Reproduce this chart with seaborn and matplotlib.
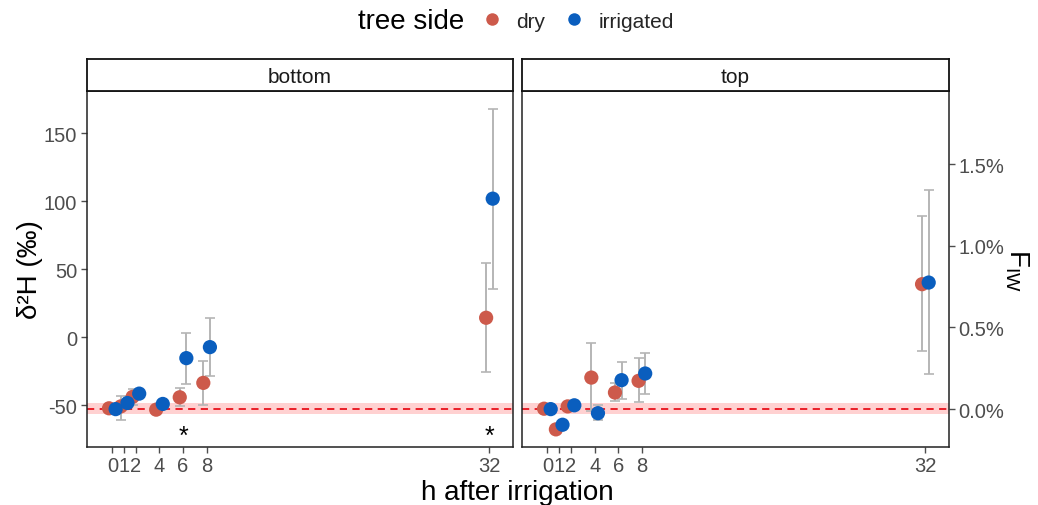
import numpy as np
import pandas as pd
import matplotlib
matplotlib.use("Agg")
import matplotlib.pyplot as plt
import seaborn as sns
from matplotlib.lines import Line2D

sns.set_theme(style="white")
plt.rcParams['font.family'] = ['Liberation Sans', 'DejaVu Sans']
plt.rcParams['axes.unicode_minus'] = False

# ---------------- data ----------------
hours = [0, 1, 2, 4, 6, 8, 32]
positions = ["bottom", "top"]
sides = ["dry", "irrigated"]

bottom_dry_mean = [-52.4, -51.0, -44.0, -53.4, -44.3, -33.7, 14.2]
bottom_dry_lo   = [-55.0, -61.0, -50.0, -56.0, -51.0, -50.2, -25.6]
bottom_dry_hi   = [-50.0, -43.0, -38.0, -51.0, -37.4, -17.7, 54.4]
bottom_irr_mean = [-53.0, -48.5, -41.6, -49.2, -15.5, -7.4, 101.8]
bottom_irr_lo   = [-55.5, -51.0, -44.0, -51.5, -34.2, -28.8, 35.0]
bottom_irr_hi   = [-50.5, -46.0, -39.5, -47.0, 3.2, 14.2, 167.7]

top_dry_mean = [-52.7, -67.9, -51.0, -29.8, -40.8, -32.2, 38.9]
top_dry_lo   = [-55.0, -70.0, -53.0, -54.6, -47.0, -47.7, -10.3]
top_dry_hi   = [-50.5, -66.0, -49.0, -4.7, -34.0, -15.6, 88.8]
top_irr_mean = [-53.0, -64.5, -50.2, -56.0, -31.7, -26.8, 40.1]
top_irr_lo   = [-55.0, -66.5, -52.0, -61.3, -45.8, -42.0, -27.5]
top_irr_hi   = [-51.0, -62.5, -48.5, -50.2, -18.2, -11.6, 108.5]

ref_mean = -52.6
ref_halfwidth = 4.3
signif_hours_bottom = [6, 32]
signif_y = -73

# secondary axis: F_IW (%) = (d2H - base) / slope
fiw_base = -53.0
fiw_slope = 120.2
fiw_ticks = [0.0, 0.5, 1.0, 1.5]

# ---------------- table ----------------
rows = []
series = {
    ("bottom", "dry"): (bottom_dry_mean, bottom_dry_lo, bottom_dry_hi),
    ("bottom", "irrigated"): (bottom_irr_mean, bottom_irr_lo, bottom_irr_hi),
    ("top", "dry"): (top_dry_mean, top_dry_lo, top_dry_hi),
    ("top", "irrigated"): (top_irr_mean, top_irr_lo, top_irr_hi),
}
for (pos, side), (m, lo, hi) in series.items():
    for h, a, b, c in zip(hours, m, lo, hi):
        rows.append(dict(position=pos, side=side, hour=h, mean=a, lo=b, hi=c))
df = pd.DataFrame(rows)
dodge = {"dry": -0.28, "irrigated": 0.28}
df["xpos"] = df["hour"] + df["side"].map(dodge)

palette = {"dry": "#CD5A4B", "irrigated": "#0A5EBE"}

# ---------------- figure ----------------
W, H = 1038, 506
fig = plt.figure(figsize=(W / 100, H / 100), dpi=100)

def fx(px):
    return px / W

def fy(py):
    return 1 - py / H

panel_x = [(87, 513), (522, 949)]
p_top, p_bot = 92, 447.5
strip_top = 60

ylim = (-80.5, 181.0)
xlim = (-2.15, 34.0)

def to_pct(v):
    return (np.asarray(v) - fiw_base) / fiw_slope

def from_pct(p):
    return np.asarray(p) * fiw_slope + fiw_base

tick_col = "#4D4D4D"
tick_fs = 14.5
axes = []
for i, pos in enumerate(positions):
    x0, x1 = panel_x[i]
    ax = fig.add_axes([fx(x0), fy(p_bot), fx(x1 - x0), (p_bot - p_top) / H])
    axes.append(ax)
    sub = df[df["position"] == pos]

    ax.axhspan(ref_mean - ref_halfwidth, ref_mean + ref_halfwidth,
               color="#FF9999", alpha=0.45, lw=0, zorder=1)
    ax.axhline(ref_mean, color="#E8111B", ls=(0, (4, 3)), lw=1.3, zorder=2)

    for side in sides:
        s = sub[sub["side"] == side]
        ax.errorbar(s["xpos"], s["mean"],
                    yerr=[s["mean"] - s["lo"], s["hi"] - s["mean"]],
                    fmt="none", ecolor="#B5B5B5", elinewidth=1.4,
                    capsize=3.5, capthick=1.2, zorder=3)
    sns.scatterplot(data=sub, x="xpos", y="mean", hue="side",
                    hue_order=sides, palette=palette, s=105,
                    linewidth=0, ax=ax, legend=False, zorder=4)

    if pos == "bottom":
        for h in signif_hours_bottom:
            ax.text(h, signif_y, "*", ha="center", va="center",
                    fontsize=18, color="black")

    ax.set_xlim(*xlim)
    ax.set_ylim(*ylim)
    ax.set_xticks(hours)
    ax.set_xticklabels([str(h) for h in hours])
    ax.set_xlabel("")
    ax.set_ylabel("")
    for sp in ax.spines.values():
        sp.set_color("#222222")
        sp.set_linewidth(1.1)
    ax.tick_params(axis="both", colors=tick_col, labelsize=tick_fs,
                   length=4, width=1, direction="out",
                   bottom=True, left=(i == 0), pad=3)
    if i == 0:
        ax.set_yticks([-50, 0, 50, 100, 150])
    else:
        ax.set_yticks([])
        sec = ax.secondary_yaxis("right", functions=(to_pct, from_pct))
        sec.set_yticks(fiw_ticks)
        sec.set_yticklabels([f"{t:.1f}%" for t in fiw_ticks])
        sec.tick_params(colors=tick_col, labelsize=tick_fs, length=4,
                        width=1, pad=3)
        sec.spines["right"].set_visible(False)

    # strip
    sax = fig.add_axes([fx(x0), fy(p_top), fx(x1 - x0), (p_top - strip_top) / H])
    sax.set_xticks([])
    sax.set_yticks([])
    for sp in sax.spines.values():
        sp.set_color("#111111")
        sp.set_linewidth(1.3)
    sax.set_facecolor("white")
    sax.text(0.5, 0.45, pos, ha="center", va="center", fontsize=15,
             color="#1A1A1A", transform=sax.transAxes)

# axis titles
fig.text(fx(30), fy(270), "δ²H (‰)", rotation=90, ha="center", va="center",
         fontsize=20, color="black")
fig.text(fx(1017), fy(270), r"F$_{\mathregular{IW}}$", rotation=270,
         ha="center", va="center", fontsize=20, color="black")
fig.text(fx(517), fy(493), "h after irrigation", ha="center", va="center",
         fontsize=20, color="black")

# legend
fig.text(fx(411), fy(22), "tree side", ha="center", va="center",
         fontsize=20, color="black")
handles = [Line2D([], [], marker="o", ls="none", markersize=9,
                  markerfacecolor=palette[s], markeredgewidth=0) for s in sides]
fig.legend(handles, sides, loc="center left", bbox_to_anchor=(fx(479), fy(22)),
           ncol=2, frameon=False, fontsize=15, handletextpad=0.6,
           columnspacing=0.75, handlelength=1.2, borderpad=0,
           borderaxespad=0)

fig.savefig("out.png", dpi=100)
